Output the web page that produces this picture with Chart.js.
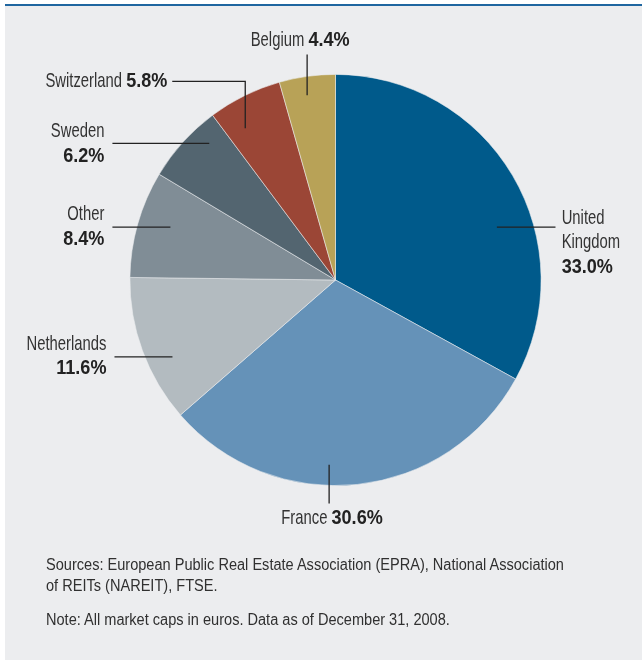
<!DOCTYPE html>
<html>
<head>
<meta charset="utf-8">
<script src="https://cdn.jsdelivr.net/npm/chart.js@4.4.1/dist/chart.umd.min.js"></script>
<style>
  html, body { margin: 0; padding: 0; background: #ffffff; }
  body { width: 642px; height: 660px; position: relative; overflow: hidden; }
  #panel { position: absolute; left: 5px; top: 4px; right: 0; bottom: 0; background: #ecedef; border-top: 2px solid #1f66a0; }
  #c { position: absolute; left: 0; top: 0; }
  .note { position: absolute; left: 46px; font-family: "Liberation Sans", Arial, sans-serif; font-size: 16px; color: #303030; line-height: 21px; white-space: nowrap; transform: scaleX(0.91); transform-origin: 0 0; }
</style>
</head>
<body>
<div id="panel"></div>
<canvas id="c" width="642" height="660"></canvas>
<div class="note" style="top:554px;">Sources: European Public Real Estate Association (EPRA), National Association<br>of REITs (NAREIT), FTSE.</div>
<div class="note" style="top:609px;">Note: All market caps in euros. Data as of December 31, 2008.</div>
<script>
// ---- data ----
const categories = ["United Kingdom", "France", "Netherlands", "Other", "Sweden", "Switzerland", "Belgium"];
const shares = [33.0, 30.6, 11.6, 8.4, 6.2, 5.8, 4.4];
const labelNames = [["United", "Kingdom"], ["France"], ["Netherlands"], ["Other"], ["Sweden"], ["Switzerland"], ["Belgium"]];
const sliceColors = ["#005a8b", "#6592b8", "#b3bbc0", "#808d96", "#536570", "#9b4636", "#b8a257"];

// label layout (offsets relative to pie center, in units of pie radius)
const labelLayout = [
  { path: [[0.785, -0.257], [1.07, -0.257]], text: [1.10, -0.301], align: "left", mode: "stack" },
  { path: [[-0.031, 0.898], [-0.031, 1.087]], text: [-0.017, 1.160], align: "center", mode: "inline" },
  { path: [[-0.793, 0.374], [-1.075, 0.374]], text: [-1.114, 0.311], align: "right", mode: "stack" },
  { path: [[-0.803, -0.257], [-1.085, -0.257]], text: [-1.124, -0.320], align: "right", mode: "stack" },
  { path: [[-0.614, -0.665], [-1.085, -0.665]], text: [-1.124, -0.723], align: "right", mode: "stack" },
  { path: [[-0.439, -0.738], [-0.439, -0.966], [-0.794, -0.966]], text: [-0.818, -0.966], align: "right", mode: "inline" },
  { path: [[-0.138, -0.898], [-0.138, -1.097]], text: [-0.172, -1.165], align: "center", mode: "inline" }
];

const FONT = '"Liberation Sans", Arial, sans-serif';
const FS = 21;          // label font size
const SX_REG = 0.706;   // horizontal condensing, regular text
const SX_BOLD = 0.86;   // horizontal condensing, bold text

function drawText(ctx, text, x, y, font, sx, color) {
  ctx.save();
  ctx.font = font;
  ctx.fillStyle = color;
  ctx.translate(x, y);
  ctx.scale(sx, 1);
  ctx.textAlign = "left";
  ctx.textBaseline = "middle";
  ctx.fillText(text, 0, 0);
  ctx.restore();
}
function textW(ctx, text, font, sx) {
  ctx.font = font;
  return ctx.measureText(text).width * sx;
}

const labelPlugin = {
  id: "leaderLabels",
  afterDatasetsDraw(chart) {
    const ctx = chart.ctx;
    const meta = chart.getDatasetMeta(0);
    ctx.save();
    meta.data.forEach((arc, i) => {
      const cx = arc.x, cy = arc.y, r = arc.outerRadius;
      const L = labelLayout[i];
      ctx.strokeStyle = "#222";
      ctx.lineWidth = 1.3;
      ctx.beginPath();
      L.path.forEach((p, k) => {
        const px = cx + p[0] * r, py = cy + p[1] * r;
        if (k === 0) ctx.moveTo(px, py); else ctx.lineTo(px, py);
      });
      ctx.stroke();

      const tx = cx + L.text[0] * r, ty = cy + L.text[1] * r;
      const value = shares[i].toFixed(1) + "%";
      const regFont = FS + "px " + FONT;
      const boldFont = "bold " + FS + "px " + FONT;
      const regCol = "#333333", boldCol = "#222222";
      const place = (w) => L.align === "left" ? tx : (L.align === "right" ? tx - w : tx - w / 2);
      if (L.mode === "inline") {
        const name = labelNames[i][0] + " ";
        const w1 = textW(ctx, name, regFont, SX_REG);
        const w2 = textW(ctx, value, boldFont, SX_BOLD);
        const x0 = place(w1 + w2);
        drawText(ctx, name, x0, ty, regFont, SX_REG, regCol);
        drawText(ctx, value, x0 + w1, ty, boldFont, SX_BOLD, boldCol);
      } else {
        const lh = 24.5;
        let y = ty;
        labelNames[i].forEach(line => {
          drawText(ctx, line, place(textW(ctx, line, regFont, SX_REG)), y, regFont, SX_REG, regCol);
          y += lh;
        });
        drawText(ctx, value, place(textW(ctx, value, boldFont, SX_BOLD)), y, boldFont, SX_BOLD, boldCol);
      }
    });
    ctx.restore();
  }
};

new Chart(document.getElementById("c"), {
  type: "pie",
  data: {
    labels: categories,
    datasets: [{
      data: shares,
      backgroundColor: sliceColors,
      borderColor: "rgba(236,237,239,0.7)",
      borderWidth: 0.8
    }]
  },
  options: {
    responsive: false,
    animation: false,
    events: [],
    layout: { padding: { left: 129, right: 100, top: 74, bottom: 174 } },
    plugins: { legend: { display: false }, tooltip: { enabled: false } }
  },
  plugins: [labelPlugin]
});
</script>
</body>
</html>
